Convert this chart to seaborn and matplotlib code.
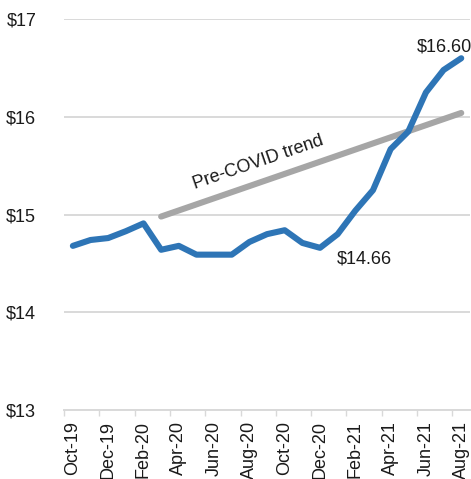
import numpy as np
import pandas as pd
import matplotlib
matplotlib.use("Agg")
import matplotlib.pyplot as plt
import seaborn as sns

# monthly values
months = ["Oct-19", "Nov-19", "Dec-19", "Jan-20", "Feb-20", "Mar-20", "Apr-20",
          "May-20", "Jun-20", "Jul-20", "Aug-20", "Sep-20", "Oct-20", "Nov-20",
          "Dec-20", "Jan-21", "Feb-21", "Mar-21", "Apr-21", "May-21", "Jun-21",
          "Jul-21", "Aug-21"]
values = [14.68, 14.74, 14.76, 14.83, 14.91, 14.64, 14.68,
          14.59, 14.59, 14.59, 14.72, 14.80, 14.84, 14.71,
          14.66, 14.80, 15.04, 15.25, 15.67, 15.85, 16.25,
          16.48, 16.60]

# pre-COVID trend endpoints
trend_months = ["Mar-20", "Aug-21"]
trend_values = [14.98, 16.04]

yticks = [13, 14, 15, 16, 17]
ytick_labels = ["$13", "$14", "$15", "$16", "$17"]

sns.set_theme(style="white")
plt.rcParams['font.family'] = ['Liberation Sans', 'DejaVu Sans']

df = pd.DataFrame({"month": months, "price": values})
trend = pd.DataFrame({"month": trend_months, "price": trend_values})

fig = plt.figure(figsize=(4.71, 4.79), dpi=100)
ax = fig.add_axes([0.136, 0.144, 0.862, 0.816])

sns.lineplot(data=df, x="month", y="price", sort=False, ax=ax,
             color="#2E75B6", linewidth=4.4, zorder=3,
             solid_capstyle="round", solid_joinstyle="round")
sns.lineplot(data=trend, x="month", y="price", sort=False, ax=ax,
             color="#A6A6A6", linewidth=4.4, zorder=2,
             solid_capstyle="round")

n = len(months)
ax.set_xlim(-0.5, n - 0.5)
ax.set_ylim(13, 17)
ax.set_yticks(yticks)
ax.set_yticklabels(ytick_labels)
ax.grid(axis="y", color="#D9D9D9", linewidth=1.4, zorder=0)
ax.set_axisbelow(True)

# tick marks at category boundaries, labels every other month
ax.set_xticks(np.arange(-0.5, n - 1, 2))
ax.set_xticklabels([])
ax.set_xticks(np.arange(0, n, 2), minor=True)
ax.set_xticklabels(months[::2], minor=True, rotation=90)
ax.tick_params(axis="x", which="major", length=4, width=1, color="#D9D9D9",
               direction="out", bottom=True)
ax.tick_params(axis="x", which="minor", length=0, pad=8, labelsize=13,
               labelcolor="#1a1a1a")
ax.tick_params(axis="y", length=0, pad=20, labelsize=13, labelcolor="#1a1a1a")

for s in ["left", "right", "top"]:
    ax.spines[s].set_visible(False)
ax.spines["bottom"].set_color("#D9D9D9")
ax.spines["bottom"].set_linewidth(1.4)

ax.set_xlabel("")
ax.set_ylabel("")

ax.text(10.5, 15.53, "Pre-COVID trend", rotation=19, ha="center", va="center",
        fontsize=13, color="#1a1a1a")
ax.text(21.05, 16.72, "$16.60", ha="center", va="center", fontsize=13,
        color="#1a1a1a")
ax.text(16.5, 14.55, "$14.66", ha="center", va="center", fontsize=13,
        color="#1a1a1a")

fig.savefig("out.png", dpi=100)
